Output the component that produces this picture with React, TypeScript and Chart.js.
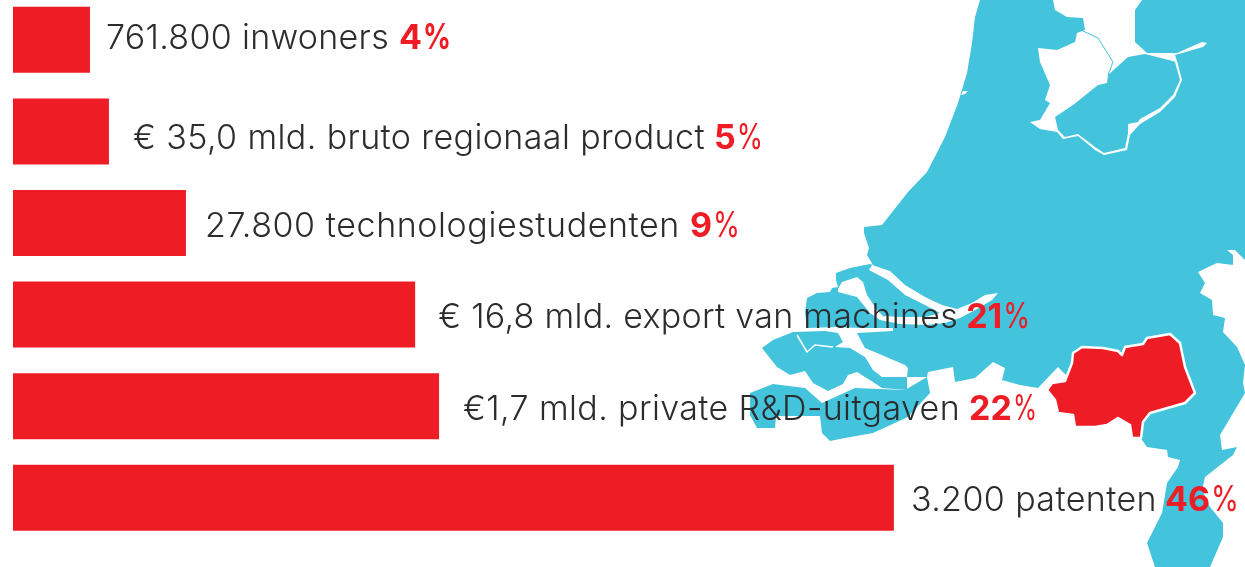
import React, { useEffect, useRef } from "react";
import { Chart, registerables } from "chart.js";

Chart.register(...registerables);

// ---- data ----
const categories = [
  "761.800 inwoners",
  "€ 35,0 mld. bruto regionaal product",
  "27.800 technologiestudenten",
  "€ 16,8 mld. export van machines",
  "€1,7 mld. private R&D-uitgaven",
  "3.200 patenten",
];
const shareValues = [4.02, 5.01, 9.03, 21, 22.25, 46];
const shareNumbers = ["4", "5", "9", "21", "22", "46"];

// ---- label layout (style, not data) ----
const labelGap = [16, 24, 19, 23, 24, 17];
const labelWidth = [283, 572, 475, 520, 497, 246];
const labelShift = [-3, 5.5, 1, 1, 1, 0.5];
const shareWidth = [52, 49, 50, 64, 68, 74];
const shareGap = [10, 9, 10, 8, 9, 8];

const RED = "#EE1C25";
const BLUE = "#43C4DC";
const INK = "#2c2c2e";
const FONT = "Inter";

// ---- decorative map outline (page pixels) ----
type P = [number, number];
const mainland: P[] = [
  [980, 0], [975, 17], [972, 43], [967, 73], [958, 103], [945, 137], [927, 172], [908, 192],
  [882, 225], [864, 227], [864, 233], [869, 248], [867, 255], [873, 265], [870, 264], [850, 268],
  [836, 273], [836, 280], [838, 287], [832, 288], [830, 292], [817, 293], [807, 298], [805, 312],
  [807, 328], [837, 327], [860, 328], [893, 328], [893, 331], [857, 333], [858, 335], [865, 348],
  [877, 353], [905, 365], [908, 368], [907, 377], [927, 377], [928, 372], [953, 367], [955, 382],
  [975, 378], [993, 362], [1005, 368], [1002, 380], [1020, 385], [1038, 388], [1058, 367], [1068, 377],
  [1062, 385], [1070, 400], [1110, 410], [1130, 420], [1138, 435], [1142, 440], [1147, 447], [1167, 450],
  [1168, 457], [1180, 460], [1178, 467], [1167, 483], [1162, 513], [1147, 543], [1155, 567], [1210, 567],
  [1223, 537], [1223, 523], [1210, 507], [1202, 490], [1205, 477], [1233, 455], [1237, 447], [1222, 450],
  [1220, 435], [1245, 393], [1243, 383], [1245, 365], [1237, 347], [1223, 332], [1225, 318], [1213, 315],
  [1212, 300], [1200, 293], [1205, 283], [1198, 272], [1217, 263], [1233, 265], [1233, 255], [1227, 250],
  [1235, 250], [1245, 260], [1245, 0],
];
const beveland: P[] = [
  [762, 348], [773, 340], [793, 332], [825, 331], [838, 333], [843, 342], [835, 347], [850, 348],
  [865, 357], [873, 370], [882, 377], [907, 377], [907, 390], [882, 388], [873, 382], [857, 372],
  [848, 375], [843, 384], [828, 391], [813, 383], [805, 371], [790, 375], [777, 367],
];
const flanders: P[] = [
  [750, 393], [773, 384], [805, 388], [822, 403], [855, 388], [905, 390], [927, 377], [930, 393],
  [908, 417], [873, 433], [845, 438], [830, 441], [822, 433], [820, 416], [776, 416], [775, 428],
  [757, 428], [750, 415],
];
const lake: P[] = [
  [1053, 0], [1055, 10], [1067, 17], [1083, 18], [1085, 30], [1077, 33], [1075, 42], [1057, 50],
  [1038, 48], [1040, 62], [1050, 85], [1045, 100], [1050, 103], [1040, 120], [1030, 122], [1040, 129],
  [1057, 132], [1063, 139], [1078, 136], [1095, 150], [1104, 155], [1127, 150], [1130, 135], [1140, 124],
  [1160, 112], [1175, 97], [1182, 80], [1177, 61], [1175, 55], [1203, 47], [1207, 43], [1202, 42],
  [1177, 53], [1147, 53], [1135, 42], [1135, 10], [1142, 0],
];
const flevoland: P[] = [
  [1145, 54], [1128, 57], [1108, 75], [1107, 83], [1098, 85], [1073, 105], [1055, 117], [1058, 130],
  [1065, 137], [1078, 134], [1095, 147], [1104, 153], [1125, 148], [1128, 133], [1128, 124], [1138, 122],
  [1140, 119], [1160, 108], [1173, 95], [1180, 80], [1175, 62], [1173, 61],
];
const ijmuiden: P[] = [[963, 91], [968, 91], [965, 94], [961, 95]];
const river: P[] = [
  [872, 265], [890, 271], [905, 285], [925, 297], [942, 305], [957, 309], [972, 303], [985, 295],
  [998, 293], [992, 300], [977, 309], [960, 318], [945, 323], [925, 325], [900, 324], [880, 320],
  [885, 316], [900, 317], [925, 317], [940, 313], [925, 305], [905, 295], [888, 280], [869, 270],
];
const grevelingen: P[] = [
  [838, 289], [842, 282], [857, 277], [863, 282], [867, 295], [877, 310], [885, 318], [880, 320],
  [870, 313], [857, 297], [838, 292],
];
const brabant: P[] = [
  [1047, 390], [1052, 383], [1065, 381], [1072, 363], [1073, 353], [1082, 347], [1103, 348], [1118, 351],
  [1122, 355], [1125, 347], [1143, 344], [1147, 338], [1170, 334], [1180, 343], [1185, 367], [1195, 393],
  [1185, 403], [1150, 413], [1143, 422], [1141, 438], [1132, 438], [1130, 425], [1118, 418], [1107, 425],
  [1095, 427], [1075, 427], [1073, 415], [1058, 413], [1055, 400],
];
const afsluitdijk: P[] = [[1083, 31], [1098, 38], [1113, 62], [1108, 75]];
const sloe: P[] = [[797, 335], [807, 352], [815, 345], [833, 347]];

const CANVAS_TOP = 6; // canvas sits this far above the page so the first band starts off-screen

function trace(ctx: CanvasRenderingContext2D, pts: P[], close = true) {
  ctx.beginPath();
  pts.forEach(([x, y], i) => {
    if (i === 0) ctx.moveTo(x, y + CANVAS_TOP);
    else ctx.lineTo(x, y + CANVAS_TOP);
  });
  if (close) ctx.closePath();
}

function fillAll(ctx: CanvasRenderingContext2D, style: string, shapes: P[][]) {
  ctx.fillStyle = style;
  shapes.forEach((s) => {
    trace(ctx, s);
    ctx.fill();
  });
}

const mapPlugin = {
  id: "map",
  beforeDatasetsDraw(chart: any) {
    const ctx: CanvasRenderingContext2D = chart.ctx;
    ctx.save();
    ctx.lineJoin = "round";
    fillAll(ctx, BLUE, [mainland, beveland, flanders]);
    fillAll(ctx, "#fff", [lake, river, grevelingen, ijmuiden]);
    fillAll(ctx, BLUE, [flevoland]);

    ctx.strokeStyle = BLUE;
    ctx.lineWidth = 1;
    trace(ctx, afsluitdijk, false);
    ctx.stroke();

    ctx.strokeStyle = "#fff";
    ctx.lineWidth = 1.5;
    trace(ctx, sloe, false);
    ctx.stroke();

    ctx.fillStyle = RED;
    ctx.lineWidth = 2.5;
    trace(ctx, brabant);
    ctx.fill();
    ctx.stroke();
    ctx.restore();
  },
};

function fitText(ctx: CanvasRenderingContext2D, text: string, x: number, y: number, width: number) {
  (ctx as any).letterSpacing = "0px";
  const natural = ctx.measureText(text).width;
  (ctx as any).letterSpacing = `${(width - natural) / text.length}px`;
  ctx.fillText(text, x, y);
  (ctx as any).letterSpacing = "0px";
}

const labelPlugin = {
  id: "barLabels",
  afterDatasetsDraw(chart: any) {
    const ctx: CanvasRenderingContext2D = chart.ctx;
    const bars = chart.getDatasetMeta(0).data;
    ctx.save();
    ctx.textBaseline = "alphabetic";
    ctx.textAlign = "left";
    categories.forEach((label, i) => {
      const x = bars[i].x + labelGap[i];
      const y = bars[i].y + labelShift[i] + 12.5;
      ctx.font = `350 34px ${FONT}`;
      ctx.fillStyle = INK;
      fitText(ctx, label, x, y, labelWidth[i]);

      const sx = x + labelWidth[i] + shareGap[i];
      const num = shareNumbers[i];
      ctx.fillStyle = RED;
      ctx.font = `700 34px ${FONT}`;
      const numW = ctx.measureText(num).width;
      ctx.fillText(num, sx, y);
      ctx.font = `${i === 0 ? 700 : 400} 35px ${FONT}`;
      const pct = ctx.measureText("%").width;
      const px = sx + numW + 1;
      const room = shareWidth[i] - numW - 1;
      ctx.save();
      ctx.translate(px, y);
      ctx.scale(room / pct, 1);
      ctx.fillText("%", 0, 0);
      ctx.restore();
    });
    ctx.restore();
  },
};

export default function App() {
  const ref = useRef<HTMLCanvasElement | null>(null);
  useEffect(() => {
    document.body.style.margin = "0";
    document.body.style.overflow = "hidden";
    document.body.style.background = "#fff";
    const chart = new Chart(ref.current!, {
      type: "bar",
      data: {
        labels: categories,
        datasets: [
          {
            data: shareValues,
            backgroundColor: RED,
            borderWidth: 0,
            barPercentage: 0.7205,
            categoryPercentage: 1,
          },
        ],
      },
      options: {
        indexAxis: "y",
        responsive: false,
        animation: false,
        layout: { padding: { left: 13, right: 83, top: 0, bottom: 23.4 } },
        plugins: { legend: { display: false }, tooltip: { enabled: false }, title: { display: false } },
        scales: {
          x: { display: false, min: 0, max: 60, grid: { display: false } },
          y: { display: false, grid: { display: false } },
        },
      },
      plugins: [mapPlugin, labelPlugin],
    });
    return () => chart.destroy();
  }, []);
  return (
    <canvas
      ref={ref}
      width={1245}
      height={573}
      style={{ position: "fixed", left: 0, top: -CANVAS_TOP, width: 1245, height: 573, display: "block" }}
    />
  );
}
